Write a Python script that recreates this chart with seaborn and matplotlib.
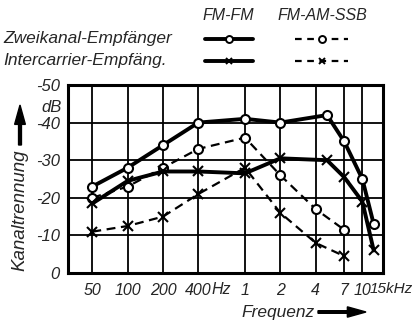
import matplotlib
matplotlib.use("Agg")
import matplotlib.pyplot as plt
from matplotlib.lines import Line2D
from matplotlib.patches import FancyArrow
from matplotlib.transforms import offset_copy, blended_transform_factory
import seaborn as sns
import pandas as pd

# Frequencies in Hz for each curve
freq_fmfm = [50, 100, 200, 400, 1000, 2000, 5000, 7000, 10000, 12500]
freq_ssb = [50, 100, 200, 400, 1000, 2000, 4000, 7000]

# Channel separation in dB (negative values, axis reads upward to -50)
zweikanal_fmfm = [-23, -28, -34, -40, -41, -40, -42, -35, -25, -13]
zweikanal_ssb = [-20, -23, -28, -33, -36, -26, -17, -11.5]
intercarrier_fmfm = [-18.5, -24.5, -27, -27, -26.5, -30.5, -30, -25.5, -19, -6]
intercarrier_ssb = [-11, -12.5, -15, -21, -28, -16, -8, -4.5]

xtick_vals = [50, 100, 200, 400, 1000, 2000, 4000, 7000, 10000]
xtick_labels = ["50", "100", "200", "400", "1", "2", "4", "7", "10"]
ytick_vals = [0, -10, -20, -30, -40, -50]
ytick_labels = ["0", "-10", "-20", "-30", "-40", "-50"]

sns.set_style("white")
plt.rcParams["font.family"] = ["Liberation Sans", "DejaVu Sans"]
plt.rcParams["font.style"] = "italic"

TICK_FS = 12
XTICK_FS = 11.5
LABEL_FS = 12.5

fig = plt.figure(figsize=(4.14, 3.23), dpi=100)
ax = fig.add_axes([68 / 414, 50 / 323, 315 / 414, 188 / 323])

series = [
    (freq_fmfm, zweikanal_fmfm, "-", "o", 2.8),
    (freq_ssb, zweikanal_ssb, (0, (4, 2.5)), "o", 1.6),
    (freq_fmfm, intercarrier_fmfm, "-", "x", 2.8),
    (freq_ssb, intercarrier_ssb, (0, (4, 2.5)), "x", 1.6),
]
for xs, ys, ls, mk, lw in series:
    df = pd.DataFrame({"f": xs, "dB": ys})
    sns.lineplot(data=df, x="f", y="dB", ax=ax, color="black", linewidth=lw,
                 linestyle=ls, marker=mk, markersize=6.5,
                 markerfacecolor="white" if mk == "o" else "black",
                 markeredgecolor="black", markeredgewidth=1.5, legend=False)

ax.set_xscale("log")
ax.set_xlim(31, 15000)
ax.set_ylim(0, -50)
ax.minorticks_off()
ax.set_xticks(xtick_vals)
ax.set_xticklabels(xtick_labels)
ax.set_yticks(ytick_vals)
ax.set_yticklabels(ytick_labels)
ax.grid(True, color="black", linewidth=1.3)
for s in ax.spines.values():
    s.set_color("black")
    s.set_linewidth(2.2)
ax.tick_params(length=0)
ax.tick_params(axis="x", pad=7, labelsize=XTICK_FS)
ax.tick_params(axis="y", pad=6, labelsize=TICK_FS)
ax.set_xlabel("")
ax.set_ylabel("")

# Unit labels on the frequency axis
xaxis_tr = ax.get_xaxis_transform()
label_y = -(7 + 2) / 188
ax.text(400, label_y, "Hz", transform=offset_copy(xaxis_tr, fig=fig, x=13, y=0, units="dots"),
        ha="left", va="top", fontsize=XTICK_FS)
fig_x_ax_y = blended_transform_factory(fig.transFigure, ax.transAxes)
ax.text(413 / 414, label_y, "15kHz", transform=fig_x_ax_y,
        ha="right", va="top", fontsize=11)
ax.text(-6 / 315, (273 - 108) / 188, "dB", transform=ax.transAxes, ha="right",
        va="center", fontsize=TICK_FS)

# Axis titles with arrows
fig.text(20 / 414, 1 - 210 / 323, "Kanaltrennung", rotation=90, ha="center",
         va="center", fontsize=13.5)
fig.add_artist(FancyArrow(20 / 414, 1 - 145 / 323, 0, 40 / 323,
                          width=0.007, head_width=0.026, head_length=0.06,
                          color="black", transform=fig.transFigure,
                          length_includes_head=True))
fig.text(278 / 414, 1 - 312 / 323, "Frequenz", ha="center", va="center",
         fontsize=LABEL_FS)
fig.add_artist(FancyArrow(318 / 414, 1 - 312 / 323, 48 / 414, 0,
                          width=0.008, head_width=0.032, head_length=0.045,
                          color="black", transform=fig.transFigure,
                          length_includes_head=True))

# Legend table
fig.text(228 / 414, 1 - 15 / 323, "FM-FM", ha="center", va="center", fontsize=11.5)
fig.text(322 / 414, 1 - 15 / 323, "FM-AM-SSB", ha="center", va="center", fontsize=11.5)
fig.text(3 / 414, 1 - 39 / 323, "Zweikanal-Empfänger", ha="left", va="center", fontsize=LABEL_FS)
fig.text(3 / 414, 1 - 61 / 323, "Intercarrier-Empfäng.", ha="left", va="center", fontsize=LABEL_FS)
for row_y, mk in [(39, "o"), (61, "x")]:
    y = 1 - row_y / 323
    fig.add_artist(Line2D([205 / 414, 253 / 414], [y, y], color="black", lw=2.8,
                          transform=fig.transFigure))
    fig.add_artist(Line2D([229 / 414], [y], marker=mk, color="black", ms=5,
                          mfc="white", mew=1.4, transform=fig.transFigure))
    fig.add_artist(Line2D([295 / 414, 348 / 414], [y, y], color="black", lw=1.6,
                          ls=(0, (3, 2.5)), transform=fig.transFigure))
    fig.add_artist(Line2D([322 / 414], [y], marker=mk, color="black", ms=5,
                          mfc="white", mew=1.4, transform=fig.transFigure))

fig.savefig("out.png", dpi=100)
